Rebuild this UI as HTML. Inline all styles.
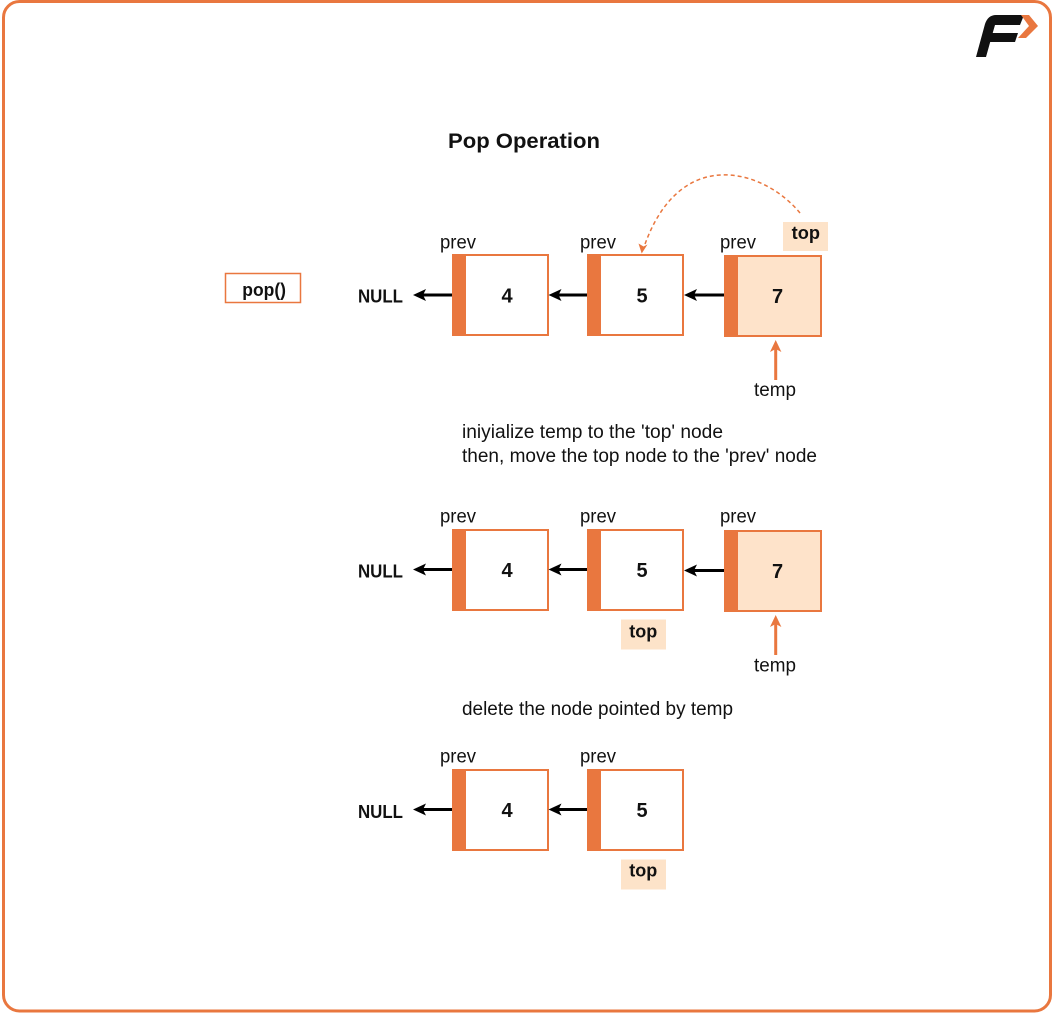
<!DOCTYPE html>
<html>
<head>
<meta charset="utf-8">
<style>
html,body{margin:0;padding:0;background:#fff;}
svg{display:block;}
text{font-family:"Liberation Sans",sans-serif;fill:#111;}
.b{font-weight:bold;}
</style>
</head>
<body>
<svg width="1055" height="1015" viewBox="0 0 1055 1015" xmlns="http://www.w3.org/2000/svg">
<!-- outer border -->
<rect x="3.5" y="1.5" width="1047" height="1009.5" rx="16" ry="16" fill="#fff" stroke="#E9773F" stroke-width="3"/>

<!-- logo -->
<path d="M996 15 L1024 15 L1020 25 L995 25 L992.7 33 L1018 33 L1015 42 L990.2 42 L986 57 L976 57 L985 24 Q988 15 996 15 Z" fill="#111"/>
<path d="M1021 15 L1029 15 L1038 26 L1026 38 L1018 38 L1029 26 Z" fill="#E9773F"/>

<!-- title -->
<text x="448" y="148" class="b" font-size="21" textLength="152" lengthAdjust="spacingAndGlyphs">Pop Operation</text>

<!-- pop() box -->
<rect x="225.5" y="273.5" width="75" height="29" fill="#fff" stroke="#E9773F" stroke-width="1.5"/>
<text x="242.3" y="296" class="b" font-size="18" textLength="43.7" lengthAdjust="spacingAndGlyphs">pop()</text>

<!-- ===== Section 1 ===== -->
<rect x="453" y="255" width="95" height="80" fill="#fff" stroke="#E9773F" stroke-width="2"/>
<rect x="452" y="254" width="14" height="82" fill="#E9773F"/>
<rect x="588" y="255" width="95" height="80" fill="#fff" stroke="#E9773F" stroke-width="2"/>
<rect x="587" y="254" width="14" height="82" fill="#E9773F"/>
<rect x="725" y="256" width="96" height="80" fill="#FEE3CA" stroke="#E9773F" stroke-width="2"/>
<rect x="724" y="255" width="14" height="82" fill="#E9773F"/>

<text x="507" y="302.7" class="b" font-size="20" text-anchor="middle">4</text>
<text x="642" y="302.7" class="b" font-size="20" text-anchor="middle">5</text>
<text x="777.5" y="303.2" class="b" font-size="20" text-anchor="middle">7</text>

<text x="358" y="302.7" class="b" font-size="18" textLength="45" lengthAdjust="spacingAndGlyphs">NULL</text>

<text x="440" y="248.3" font-size="19" textLength="36" lengthAdjust="spacingAndGlyphs">prev</text>
<text x="580" y="248.3" font-size="19" textLength="36" lengthAdjust="spacingAndGlyphs">prev</text>
<text x="720" y="248.3" font-size="19" textLength="36" lengthAdjust="spacingAndGlyphs">prev</text>

<g fill="#000" stroke="none">
  <rect x="423" y="293.5" width="29" height="3"/>
  <path d="M413 295 L426 289 L423 295 L426 301 Z"/>
  <rect x="558" y="293.5" width="29" height="3"/>
  <path d="M548.5 295 L561.5 289 L558.5 295 L561.5 301 Z"/>
  <rect x="694" y="293.5" width="30" height="3"/>
  <path d="M684 295 L697 289 L694 295 L697 301 Z"/>
</g>

<rect x="783" y="222" width="45" height="29" fill="#FDE3C9"/>
<text x="791.7" y="239" class="b" font-size="18" textLength="28.3" lengthAdjust="spacingAndGlyphs">top</text>

<path d="M800 213 C765 170 680 143 644 247" fill="none" stroke="#E9773F" stroke-width="1.5" stroke-dasharray="4 3"/>
<path d="M641.7 253.5 L638.5 243.5 L643.5 246.5 L647.5 244.5 Z" fill="#E9773F"/>

<rect x="774.2" y="348" width="3" height="32" fill="#E9773F"/>
<path d="M775.7 340 L770 352 L775.7 349 L781.4 352 Z" fill="#E9773F"/>
<text x="754" y="396" font-size="19" textLength="42" lengthAdjust="spacingAndGlyphs">temp</text>

<text x="462" y="438" font-size="19" textLength="261" lengthAdjust="spacingAndGlyphs">iniyialize temp to the 'top' node</text>
<text x="462" y="462" font-size="19" textLength="355" lengthAdjust="spacingAndGlyphs">then, move the top node to the 'prev' node</text>

<!-- ===== Section 2 ===== -->
<rect x="453" y="530" width="95" height="80" fill="#fff" stroke="#E9773F" stroke-width="2"/>
<rect x="452" y="529" width="14" height="82" fill="#E9773F"/>
<rect x="588" y="530" width="95" height="80" fill="#fff" stroke="#E9773F" stroke-width="2"/>
<rect x="587" y="529" width="14" height="82" fill="#E9773F"/>
<rect x="725" y="531" width="96" height="80" fill="#FEE3CA" stroke="#E9773F" stroke-width="2"/>
<rect x="724" y="530" width="14" height="82" fill="#E9773F"/>

<text x="507" y="577" class="b" font-size="20" text-anchor="middle">4</text>
<text x="642" y="577" class="b" font-size="20" text-anchor="middle">5</text>
<text x="777.5" y="578" class="b" font-size="20" text-anchor="middle">7</text>

<text x="358" y="577.7" class="b" font-size="18" textLength="45" lengthAdjust="spacingAndGlyphs">NULL</text>

<text x="440" y="522.3" font-size="19" textLength="36" lengthAdjust="spacingAndGlyphs">prev</text>
<text x="580" y="522.3" font-size="19" textLength="36" lengthAdjust="spacingAndGlyphs">prev</text>
<text x="720" y="522.3" font-size="19" textLength="36" lengthAdjust="spacingAndGlyphs">prev</text>

<g fill="#000" stroke="none">
  <rect x="423" y="568" width="29" height="3"/>
  <path d="M413 569.5 L426 563.5 L423 569.5 L426 575.5 Z"/>
  <rect x="558" y="568" width="29" height="3"/>
  <path d="M548.5 569.5 L561.5 563.5 L558.5 569.5 L561.5 575.5 Z"/>
  <rect x="694" y="569" width="30" height="3"/>
  <path d="M684 570.5 L697 564.5 L694 570.5 L697 576.5 Z"/>
</g>

<rect x="621" y="619.5" width="45" height="30" fill="#FDE3C9"/>
<text x="629.3" y="637.7" class="b" font-size="18" textLength="28" lengthAdjust="spacingAndGlyphs">top</text>

<rect x="774.2" y="623" width="3" height="32" fill="#E9773F"/>
<path d="M775.7 615 L770 627 L775.7 624 L781.4 627 Z" fill="#E9773F"/>
<text x="754" y="671.7" font-size="19" textLength="42" lengthAdjust="spacingAndGlyphs">temp</text>

<text x="462" y="715" font-size="19" textLength="271" lengthAdjust="spacingAndGlyphs">delete the node pointed by temp</text>

<!-- ===== Section 3 ===== -->
<rect x="453" y="770" width="95" height="80" fill="#fff" stroke="#E9773F" stroke-width="2"/>
<rect x="452" y="769" width="14" height="82" fill="#E9773F"/>
<rect x="588" y="770" width="95" height="80" fill="#fff" stroke="#E9773F" stroke-width="2"/>
<rect x="587" y="769" width="14" height="82" fill="#E9773F"/>

<text x="507" y="817" class="b" font-size="20" text-anchor="middle">4</text>
<text x="642" y="817" class="b" font-size="20" text-anchor="middle">5</text>

<text x="358" y="818" class="b" font-size="18" textLength="45" lengthAdjust="spacingAndGlyphs">NULL</text>

<text x="440" y="762.3" font-size="19" textLength="36" lengthAdjust="spacingAndGlyphs">prev</text>
<text x="580" y="762.3" font-size="19" textLength="36" lengthAdjust="spacingAndGlyphs">prev</text>

<g fill="#000" stroke="none">
  <rect x="423" y="808" width="29" height="3"/>
  <path d="M413 809.5 L426 803.5 L423 809.5 L426 815.5 Z"/>
  <rect x="558" y="808" width="29" height="3"/>
  <path d="M548.5 809.5 L561.5 803.5 L558.5 809.5 L561.5 815.5 Z"/>
</g>

<rect x="621" y="859.5" width="45" height="30" fill="#FDE3C9"/>
<text x="629.3" y="876.7" class="b" font-size="18" textLength="28" lengthAdjust="spacingAndGlyphs">top</text>
</svg>
</body>
</html>
